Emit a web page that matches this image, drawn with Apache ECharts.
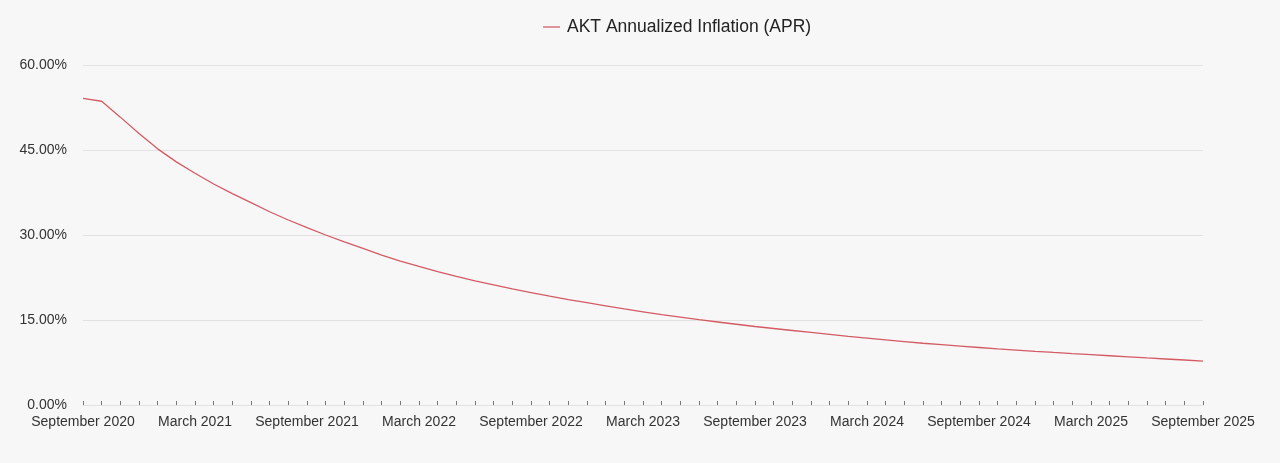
<!DOCTYPE html>
<html>
<head>
<meta charset="utf-8">
<script src="https://cdn.jsdelivr.net/npm/echarts@6/dist/echarts.min.js"></script>
<style>
html,body{margin:0;padding:0;background:#f7f7f7;}
#chart{width:1280px;height:463px;}
</style>
</head>
<body>
<div id="chart"></div>
<script>
const months = ["January","February","March","April","May","June","July","August","September","October","November","December"];
const categories = [];
for (let y = 2020; y <= 2025; y++) {
  for (let m = 0; m < 12; m++) {
    if ((y === 2020 && m < 8) || (y === 2025 && m > 8)) continue;
    categories.push(months[m] + " " + y);
  }
}
const seriesName = "AKT Annualized Inflation (APR)";
const inflation = [
  54.1, 53.6, 50.8, 47.9, 45.2, 42.9, 40.9, 39.0, 37.3, 35.7, 34.1, 32.65,
  31.3, 30.0, 28.8, 27.65, 26.45, 25.4, 24.45, 23.55, 22.7, 21.9, 21.2, 20.5,
  19.85, 19.2, 18.6, 18.05, 17.5, 16.95, 16.45, 15.95, 15.5, 15.05, 14.65, 14.25,
  13.85, 13.5, 13.15, 12.8, 12.45, 12.1, 11.8, 11.5, 11.2, 10.9, 10.65, 10.4,
  10.15, 9.9, 9.7, 9.48, 9.27, 9.07, 8.88, 8.69, 8.5, 8.3, 8.12, 7.94, 7.76
];
const yTicks = [0, 15, 30, 45, 60];

const font = 'Liberation Sans, Arial, Helvetica, sans-serif';
const chart = echarts.init(document.getElementById('chart'));
chart.setOption({
  backgroundColor: '#f7f7f7',
  animation: false,
  textStyle: { fontFamily: font },
  legend: {
    top: 13,
    left: 538,
    icon: 'rect',
    itemWidth: 17,
    itemHeight: 1.5,
    itemGap: 10,
    textStyle: { fontSize: 17.5, color: '#222', fontFamily: font, padding: [0, 0, 0, 2] },
    data: [seriesName]
  },
  grid: { left: 83, right: 77, top: 65, bottom: 58, containLabel: false },
  xAxis: {
    type: 'category',
    data: categories,
    boundaryGap: false,
    axisLine: { show: true, lineStyle: { color: '#e2e2e2', width: 1 } },
    axisTick: { show: true, interval: 0, inside: true, length: 4, lineStyle: { color: '#777' } },
    axisLabel: { interval: 5, margin: 10, fontSize: 14, color: '#333', showMaxLabel: true },
    splitLine: { show: false }
  },
  yAxis: {
    type: 'value',
    min: yTicks[0],
    max: yTicks[yTicks.length - 1],
    interval: 15,
    axisLine: { show: false },
    axisTick: { show: false },
    axisLabel: { margin: 16, fontSize: 14, color: '#333', formatter: v => v.toFixed(2) + '%' },
    splitLine: { lineStyle: { color: '#e2e2e2', width: 1 } }
  },
  series: [{
    name: seriesName,
    type: 'line',
    data: inflation,
    symbol: 'none',
    smooth: false,
    lineStyle: { color: '#d45a63', width: 1.3 },
    itemStyle: { color: '#d9737a' }
  }]
});
</script>
</body>
</html>
